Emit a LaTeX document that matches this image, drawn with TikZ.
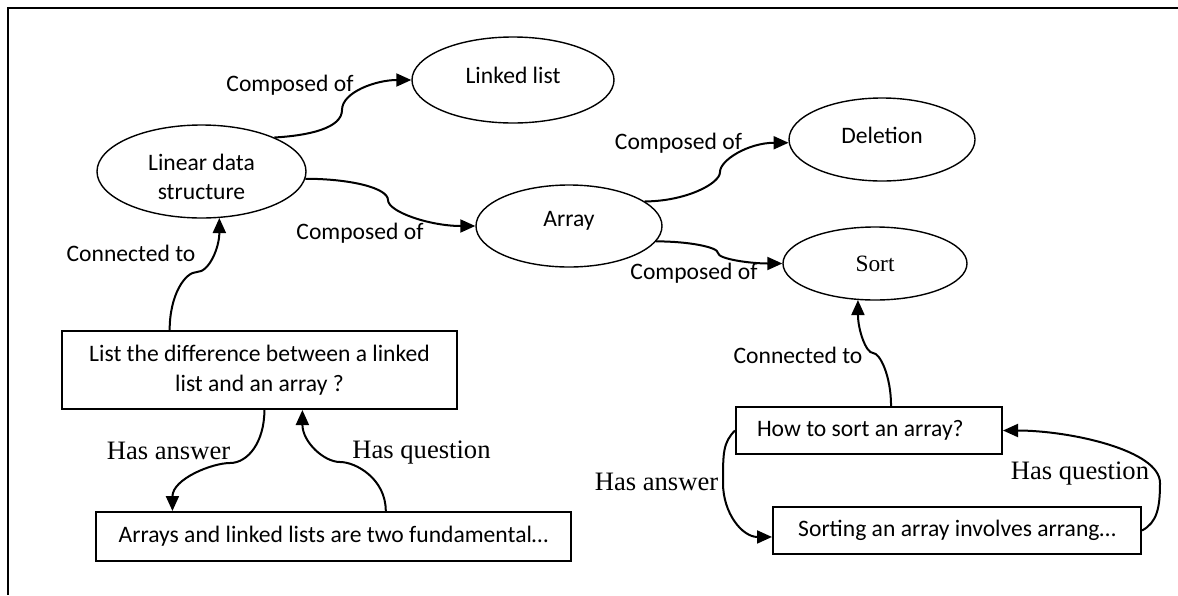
\documentclass[tikz,border=0pt]{standalone}
\usepackage{fontspec}
\setmainfont{Carlito}
\newfontfamily\timesfont{Liberation Serif}
\usetikzlibrary{arrows.meta, shapes.geometric}

\begin{document}
\begin{tikzpicture}[x=0.5pt, y=-0.5pt,
    concept/.style={draw, ellipse, line width=0.7pt, inner sep=0pt, align=center,
      font=\fontsize{11.8}{14.5}\selectfont},
    textbox/.style={draw, rectangle, line width=1pt, inner ysep=0pt,
      font=\fontsize{11.8}{15}\selectfont},
    rel/.style={line width=1pt, -{Triangle[length=7.5pt, width=6.5pt]}},
    sanslabel/.style={inner sep=0pt, font=\fontsize{11.8}{15}\selectfont},
    seriflabel/.style={inner sep=0pt, font=\timesfont\fontsize{13.3}{15}\selectfont}]
    %\draw[style=help lines,very thin] (0, 0) grid[step=50] (1178, 595);
    \useasboundingbox (0, 0) rectangle (1178, 595);
    \draw[line width=1pt] (1178, 8) -- (8, 8) -- (8, 595);

    \node[concept, minimum width=104.5pt, minimum height=46.5pt] (lds) at (201.5, 171.5) {\rule{0pt}{14pt}Linear data\\structure};
    \node[concept, minimum width=101pt, minimum height=43pt, text depth=5pt] (ll) at (513, 80) {Linked list};
    \node[concept, minimum width=93pt, minimum height=41pt, text depth=7.5pt] (arr) at (569, 226) {Array};
    \node[concept, minimum width=93pt, minimum height=41.5pt, text depth=4.5pt] (del) at (882, 139.5) {Deletion};
    \node[concept, minimum width=92pt, minimum height=36.5pt,
      font=\timesfont\fontsize{11.7}{14}\selectfont] (sort) at (875, 263.5) {Sort};

    \node[textbox, align=center, minimum width=197.5pt, minimum height=39pt]
      (qlist) at (259.5, 370) {List the difference between a linked\\list and an array ?};
    \node[textbox, minimum width=237.5pt, minimum height=24.5pt]
      (ans1) at (333.5, 536.5) {Arrays and linked lists are two fundamental…};
    \node[textbox, inner xsep=10.5pt, minimum height=23.5pt]
      (qsort) at (869, 430.5) {\makebox[112pt][l]{How to sort an array?}};
    \node[textbox, minimum width=184pt, minimum height=23.5pt]
      (ans2) at (957, 530.5) {Sorting an array involves arrang…};

    \coordinate (K1) at (342, 110);
    \coordinate (K2) at (388, 200);
    \coordinate (K3) at (720, 172);
    \coordinate (K4) at (718, 253);
    \coordinate (K5) at (197, 272);
    \coordinate (K6) at (230, 463);
    \coordinate (K7) at (340, 462);
    \coordinate (K8) at (873, 353);
    \coordinate (K9) at (723, 483);
    \coordinate (K10) at (1160, 483);

    \draw[rel] (lds.25) .. controls +(35, -2) and +(0, 18) .. (K1)
      .. controls +(0, -18) and +(-35, 0) .. (ll.west);
    \draw[rel] (lds.-4) .. controls +(45, 0) and +(0, -12) .. (K2)
      .. controls +(0, 12) and +(-45, 0) .. (arr.west);
    \draw[rel] (arr.18) .. controls +(40, 0) and +(0, 12) .. (K3)
      .. controls +(0, -12) and +(-40, 0) .. (del.182);
    \draw[rel] (arr.-10) .. controls +(32, 0) and +(0, -6) .. (K4)
      .. controls +(0, 6) and +(-32, 0) .. (sort.west);
    \draw[rel] (qlist.156) .. controls +(0, -35) and +(-12, 0) .. (K5)
      .. controls +(12, 0) and +(0, 30) .. (lds.-69);
    \draw[rel] (qlist.-83) .. controls +(0, 32) and +(18, 0) .. (K6)
      .. controls +(-18, 0) and +(0, -32) .. (ans1.171);
    \draw[rel] (ans1.26) .. controls +(0, -32) and +(16, 0) .. (K7)
      .. controls +(-16, 0) and +(0, 32) .. (qlist.-43);
    \draw[rel] (qsort.48) .. controls +(0, -30) and +(7, 0) .. (K8)
      .. controls +(-7, 0) and +(0, 30) .. (sort.-115);
    \draw[rel] (qsort.west) .. controls +(-12, 12) and +(0, -30) .. (K9)
      .. controls +(0, 30) and +(-30, 0) .. (ans2.182);
    \draw[rel] (ans2.east) .. controls +(15, -8) and +(0, 25) .. (K10)
      .. controls +(0, -33) and +(66, 0) .. (qsort.east);

    \node[sanslabel] (comp1) at (290, 85) {Composed of};
    \node[sanslabel] (comp2) at (360, 233) {Composed of};
    \node[sanslabel] (comp3) at (678.5, 143) {Composed of};
    \node[sanslabel] (comp4) at (694, 273) {Composed of};
    \node[sanslabel] (conn1) at (131, 253) {Connected to};
    \node[sanslabel] (conn2) at (798, 355) {Connected to};
    \node[seriflabel] (answ1) at (168.5, 451) {Has answer};
    \node[seriflabel] (answ2) at (656.5, 482) {Has answer};
    \node[seriflabel] (ques1) at (421.5, 453) {Has question};
    \node[seriflabel] (ques2) at (1080, 474) {Has question};
  \end{tikzpicture}
\end{document}
